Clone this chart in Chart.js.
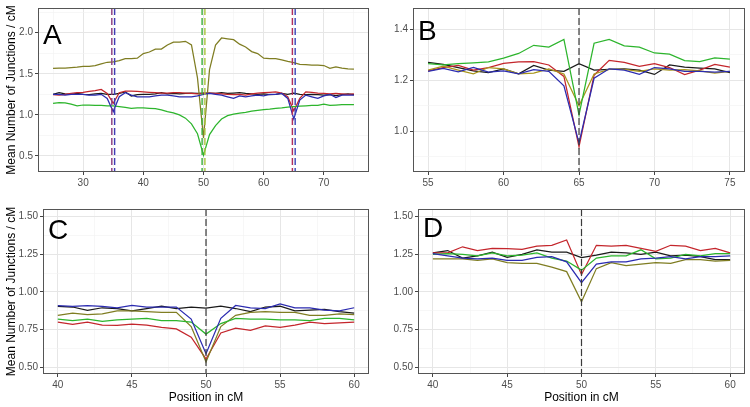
<!DOCTYPE html>
<html>
<head>
<meta charset="utf-8">
<script src="https://cdn.jsdelivr.net/npm/chart.js@4.4.1/dist/chart.umd.min.js"></script>
<style>
  body { margin: 0; background: #fff; }
  #wrap { position: relative; width: 750px; height: 407px; }
  canvas { position: absolute; }
</style>
</head>
<body>
<div id="wrap">
  <canvas id="panelA" width="375" height="200" style="left:0;top:0"></canvas>
  <canvas id="panelB" width="375" height="200" style="left:375px;top:0"></canvas>
  <canvas id="panelC" width="375" height="207" style="left:0;top:200px"></canvas>
  <canvas id="panelD" width="375" height="207" style="left:375px;top:200px"></canvas>
</div>
<script>
// ---- data ----
var posA = [25, 26, 27, 28, 29, 30, 31, 32, 33, 34, 35, 36, 37, 38, 39, 40, 41, 42, 43, 44, 45, 46, 47, 48, 49, 50,
  51, 52, 53, 54, 55, 56, 57, 58, 59, 60, 61, 62, 63, 64, 65, 66, 67, 68, 69, 70, 71, 72, 73, 74, 75];
var blackA = [1.25, 1.27, 1.255, 1.25, 1.26, 1.25, 1.245, 1.255, 1.26, 1.25, 1.25, 1.26, 1.28, 1.23, 1.245, 1.25, 1.25, 1.255, 1.27, 1.255, 1.26, 1.255, 1.26, 1.265, 1.26, 1.265,
  1.265, 1.26, 1.27, 1.26, 1.265, 1.27, 1.26, 1.255, 1.25, 1.255, 1.245, 1.25, 1.26, 1.25, 1.265, 1.25, 1.245, 1.25, 1.245, 1.24, 1.245, 1.235, 1.245, 1.255, 1.245];
var redA = [1.245, 1.24, 1.25, 1.26, 1.27, 1.275, 1.285, 1.295, 1.31, 1.26, 1.14, 1.27, 1.29, 1.29, 1.285, 1.28, 1.275, 1.27, 1.265, 1.265, 1.27, 1.27, 1.265, 1.26, 1.255, 1.26,
  1.265, 1.26, 1.255, 1.25, 1.245, 1.25, 1.24, 1.255, 1.265, 1.27, 1.275, 1.28, 1.265, 1.22, 1.05, 1.2, 1.28, 1.275, 1.265, 1.26, 1.255, 1.26, 1.255, 1.25, 1.255];
var blueA = [1.25, 1.25, 1.24, 1.25, 1.25, 1.25, 1.24, 1.24, 1.25, 1.2, 1.04, 1.22, 1.27, 1.24, 1.22, 1.22, 1.22, 1.23, 1.24, 1.24, 1.23, 1.22, 1.22, 1.22, 1.23, 1.25,
  1.26, 1.25, 1.24, 1.22, 1.2, 1.23, 1.22, 1.23, 1.24, 1.23, 1.25, 1.25, 1.26, 1.2, 0.95, 1.18, 1.24, 1.22, 1.2, 1.23, 1.25, 1.21, 1.24, 1.24, 1.24];
var greenA = [1.14, 1.15, 1.145, 1.13, 1.11, 1.12, 1.12, 1.115, 1.115, 1.11, 1.11, 1.1, 1.09, 1.08, 1.085, 1.085, 1.08, 1.075, 1.06, 1.04, 1.025, 1.0, 0.96, 0.89, 0.77, 0.51,
  0.76, 0.87, 0.95, 0.99, 1.01, 1.02, 1.03, 1.045, 1.055, 1.065, 1.07, 1.08, 1.085, 1.095, 1.1, 1.105, 1.11, 1.115, 1.115, 1.13, 1.115, 1.12, 1.125, 1.125, 1.125];
var oliveA = [1.565, 1.57, 1.57, 1.575, 1.58, 1.59, 1.59, 1.6, 1.62, 1.64, 1.645, 1.66, 1.685, 1.685, 1.69, 1.745, 1.765, 1.8, 1.8, 1.85, 1.885, 1.885, 1.895, 1.85, 1.45, 0.72,
  1.55, 1.85, 1.935, 1.925, 1.915, 1.86, 1.825, 1.77, 1.745, 1.69, 1.685, 1.685, 1.67, 1.65, 1.635, 1.615, 1.61, 1.605, 1.605, 1.6, 1.565, 1.585, 1.57, 1.56, 1.555];

var posB = [55, 56, 57, 58, 59, 60, 61, 62, 63, 64, 65, 66, 67, 68, 69, 70, 71, 72, 73, 74, 75];
var blackB = [1.27, 1.262, 1.25, 1.237, 1.23, 1.245, 1.225, 1.258, 1.24, 1.235, 1.265, 1.24, 1.243, 1.245, 1.24, 1.223, 1.26, 1.252, 1.248, 1.245, 1.23];
var redB = [1.237, 1.25, 1.258, 1.24, 1.25, 1.266, 1.272, 1.273, 1.26, 1.215, 0.94, 1.22, 1.278, 1.27, 1.255, 1.265, 1.25, 1.222, 1.24, 1.262, 1.252];
var blueB = [1.235, 1.247, 1.233, 1.25, 1.232, 1.237, 1.225, 1.242, 1.235, 1.178, 0.955, 1.208, 1.245, 1.24, 1.223, 1.25, 1.245, 1.235, 1.235, 1.232, 1.235];
var greenB = [1.265, 1.26, 1.265, 1.268, 1.272, 1.287, 1.305, 1.337, 1.33, 1.36, 1.065, 1.345, 1.36, 1.335, 1.33, 1.307, 1.302, 1.277, 1.273, 1.288, 1.283];
var oliveB = [1.24, 1.255, 1.24, 1.225, 1.25, 1.245, 1.225, 1.228, 1.245, 1.225, 1.1, 1.225, 1.243, 1.243, 1.235, 1.245, 1.24, 1.242, 1.237, 1.228, 1.235];

var posCD = [40, 41, 42, 43, 44, 45, 46, 47, 48, 49, 50, 51, 52, 53, 54, 55, 56, 57, 58, 59, 60];
var blackC = [0.905, 0.9, 0.877, 0.895, 0.89, 0.875, 0.89, 0.905, 0.89, 0.9, 0.893, 0.905, 0.89, 0.87, 0.9, 0.905, 0.875, 0.88, 0.885, 0.87, 0.86];
var redC = [0.8, 0.785, 0.8, 0.78, 0.778, 0.787, 0.78, 0.765, 0.755, 0.7, 0.555, 0.728, 0.76, 0.745, 0.775, 0.765, 0.78, 0.8, 0.79, 0.795, 0.8];
var blueC = [0.91, 0.905, 0.91, 0.905, 0.895, 0.91, 0.9, 0.9, 0.9, 0.82, 0.59, 0.825, 0.91, 0.895, 0.89, 0.92, 0.895, 0.895, 0.88, 0.875, 0.895];
var greenC = [0.82, 0.81, 0.82, 0.805, 0.815, 0.82, 0.825, 0.81, 0.81, 0.8, 0.72, 0.79, 0.825, 0.82, 0.82, 0.815, 0.815, 0.81, 0.825, 0.825, 0.815];
var oliveC = [0.845, 0.86, 0.85, 0.855, 0.875, 0.875, 0.87, 0.865, 0.865, 0.77, 0.535, 0.77, 0.845, 0.865, 0.87, 0.865, 0.865, 0.845, 0.845, 0.855, 0.85];

var blackD = [1.26, 1.275, 1.225, 1.24, 1.265, 1.23, 1.25, 1.28, 1.265, 1.265, 1.228, 1.245, 1.265, 1.26, 1.25, 1.265, 1.24, 1.245, 1.235, 1.215, 1.215];
var redD = [1.26, 1.26, 1.3, 1.275, 1.29, 1.288, 1.283, 1.305, 1.31, 1.345, 1.115, 1.31, 1.305, 1.31, 1.29, 1.27, 1.31, 1.305, 1.275, 1.29, 1.26];
var blueD = [1.255, 1.24, 1.225, 1.22, 1.225, 1.21, 1.21, 1.23, 1.235, 1.2, 1.062, 1.185, 1.2, 1.2, 1.22, 1.225, 1.235, 1.22, 1.235, 1.235, 1.24];
var greenD = [1.25, 1.255, 1.25, 1.24, 1.26, 1.24, 1.245, 1.26, 1.225, 1.205, 1.145, 1.225, 1.24, 1.24, 1.28, 1.22, 1.225, 1.25, 1.24, 1.255, 1.255];
var oliveD = [1.22, 1.22, 1.22, 1.21, 1.22, 1.195, 1.19, 1.19, 1.165, 1.135, 0.935, 1.155, 1.195, 1.175, 1.185, 1.195, 1.19, 1.215, 1.215, 1.205, 1.21];

// marked positions (dashed verticals)
var markA = [35, 50, 65];
var markB = [65];
var markCD = [50];

// gridline / tick positions (labelled ones are the major steps)
var xTicksA = [25, 30, 35, 40, 45, 50, 55, 60, 65, 70, 75];
var yTicksA = [0.5, 0.75, 1.0, 1.25, 1.5, 1.75, 2.0, 2.25];
var xTicksB = [55, 57.5, 60, 62.5, 65, 67.5, 70, 72.5, 75];
var yTicksB = [0.9, 1.0, 1.1, 1.2, 1.3, 1.4];
var xTicksCD = [40, 42.5, 45, 47.5, 50, 52.5, 55, 57.5, 60];
var yTicksCD = [0.5, 0.625, 0.75, 0.875, 1.0, 1.125, 1.25, 1.375, 1.5];

// ---- styling ----
var FONT = '"Liberation Sans", Arial, Helvetica, sans-serif';
var COL = { black: '#1a1a1a', red: '#c4262c', blue: '#2b2bb0', green: '#2db52d', olive: '#7f7d22' };
// paired dash colours per marker in panel A (left, right)
var markColsA = [['#8a3a7c', '#3f3cb4'], ['#3aae3a', '#a8c43c'], ['#b2305c', '#3a44b8']];

var isMajor = function (v, step) {
  var r = v / step;
  return Math.abs(r - Math.round(r)) < 1e-6;
};

var panelDecor = {
  id: 'panelDecor',
  afterDatasetsDraw(chart, args, opts) {
    var ctx = chart.ctx;
    var a = chart.chartArea;
    var x = chart.scales.x;
    ctx.save();
    ctx.beginPath();
    ctx.rect(a.left, a.top, a.right - a.left, a.bottom - a.top);
    ctx.clip();
    ctx.setLineDash([7, 3]);
    opts.marks.forEach(function (m, i) {
      var px = x.getPixelForValue(m);
      var cols = opts.markCols ? opts.markCols[i] : ['#3a3a3a'];
      var offs = cols.length > 1 ? [-1.4, 1.4] : [0];
      cols.forEach(function (c, j) {
        ctx.strokeStyle = c;
        ctx.lineWidth = cols.length > 1 ? 1.4 : 1.2;
        ctx.beginPath();
        ctx.moveTo(px + offs[j], a.top);
        ctx.lineTo(px + offs[j], a.bottom);
        ctx.stroke();
      });
    });
    ctx.restore();

    ctx.save();
    ctx.strokeStyle = '#555';
    ctx.lineWidth = 1;
    ctx.strokeRect(a.left + 0.5, a.top + 0.5, a.right - a.left - 1, a.bottom - a.top - 1);
    ctx.fillStyle = '#000';
    ctx.font = '28px ' + FONT;
    ctx.textBaseline = 'alphabetic';
    ctx.fillText(opts.letter, a.left + 5, a.top + opts.letterY);
    ctx.restore();
  }
};

function axisOpts(cfg, ax) {
  var major = cfg[ax + 'Major'];
  return {
    type: 'linear',
    min: cfg[ax + 'Min'], max: cfg[ax + 'Max'],
    afterFit: function (s) {
      if (ax === 'x') { s.height = cfg.xHeight; } else { s.width = cfg.yWidth; }
    },
    afterBuildTicks: function (s) {
      s.ticks = cfg[ax + 'Ticks'].map(function (v) { return { value: v }; });
    },
    border: { display: false },
    grid: {
      color: function (c) { return isMajor(c.tick.value, major) ? '#e6e6e6' : '#f2f2f2'; },
      lineWidth: function (c) { return isMajor(c.tick.value, major) ? 1 : 0.6; },
      tickColor: function (c) { return isMajor(c.tick.value, major) ? '#444' : 'rgba(0,0,0,0)'; },
      tickLength: 3,
      drawTicks: true
    },
    ticks: {
      autoSkip: false,
      maxRotation: 0,
      padding: 2,
      color: '#4d4d4d',
      font: { family: FONT, size: 10 },
      callback: function (v) {
        if (!isMajor(v, major)) return '';
        return ax === 'x' ? String(Math.round(v)) : v.toFixed(cfg.yDec);
      }
    },
    title: {
      display: !!cfg[ax + 'Title'],
      text: cfg[ax + 'Title'] || '',
      color: '#000',
      font: { family: FONT, size: 12 },
      padding: ax === 'x' ? { top: 0, bottom: 2 } : { top: 4, bottom: 0 }
    }
  };
}

function makePanel(id, cfg) {
  var names = ['black', 'red', 'blue', 'green', 'olive'];
  // draw order like the original: black underneath
  var order = [4, 3, 0, 1, 2];
  var datasets = names.map(function (n, k) {
    return {
      label: n,
      data: cfg.pos.map(function (p, i) { return { x: p, y: cfg.series[k][i] }; }),
      borderColor: cfg.colors && cfg.colors[n] ? cfg.colors[n] : COL[n],
      borderWidth: 1.25,
      pointRadius: 0,
      tension: 0,
      fill: false,
      order: order[k]
    };
  });

  return new Chart(document.getElementById(id), {
    type: 'line',
    data: { datasets: datasets },
    plugins: [panelDecor],
    options: {
      responsive: false,
      animation: false,
      devicePixelRatio: 1,
      layout: { padding: { top: cfg.padTop, right: cfg.padRight, left: 0, bottom: 0 } },
      plugins: {
        legend: { display: false },
        tooltip: { enabled: false },
        panelDecor: { letter: cfg.letter, letterY: cfg.letterY, marks: cfg.marks, markCols: cfg.markCols }
      },
      scales: {
        x: axisOpts(cfg, 'x'),
        y: axisOpts(cfg, 'y')
      }
    }
  });
}

var yLabel = 'Mean Number of Junctions / cM';
var xLabel = 'Position in cM';

makePanel('panelA', {
  letter: 'A', letterY: 36, pos: posA,
  series: [blackA, redA, blueA, greenA, oliveA],
  marks: markA, markCols: markColsA,
  xTicks: xTicksA, yTicks: yTicksA,
  xMin: 22.5, xMax: 77.5, xMajor: 10, yMin: 0.305, yMax: 2.3, yMajor: 0.5, yDec: 1,
  padTop: 5, padRight: 6, yWidth: 38, xHeight: 28, yTitle: yLabel
});
makePanel('panelB', {
  letter: 'B', letterY: 32, pos: posB,
  series: [blackB, redB, blueB, greenB, oliveB],
  colors: { olive: '#a8961c' },
  marks: markB,
  xTicks: xTicksB, yTicks: yTicksB,
  xMin: 54, xMax: 76, xMajor: 5, yMin: 0.841, yMax: 1.483, yMajor: 0.2, yDec: 1,
  padTop: 5, padRight: 5, yWidth: 38, xHeight: 28
});
makePanel('panelC', {
  letter: 'C', letterY: 30, pos: posCD,
  series: [blackC, redC, blueC, greenC, oliveC],
  marks: markCD,
  xTicks: xTicksCD, yTicks: yTicksCD,
  xMin: 39, xMax: 61, xMajor: 5, yMin: 0.455, yMax: 1.551, yMajor: 0.25, yDec: 2,
  padTop: 9, padRight: 6, yWidth: 43, xHeight: 33, yTitle: yLabel, xTitle: xLabel
});
makePanel('panelD', {
  letter: 'D', letterY: 28, pos: posCD,
  series: [blackD, redD, blueD, greenD, oliveD],
  marks: markCD,
  xTicks: xTicksCD, yTicks: yTicksCD,
  xMin: 39, xMax: 61, xMajor: 5, yMin: 0.455, yMax: 1.551, yMajor: 0.25, yDec: 2,
  padTop: 9, padRight: 5, yWidth: 43, xHeight: 33, xTitle: xLabel
});
</script>
</body>
</html>
